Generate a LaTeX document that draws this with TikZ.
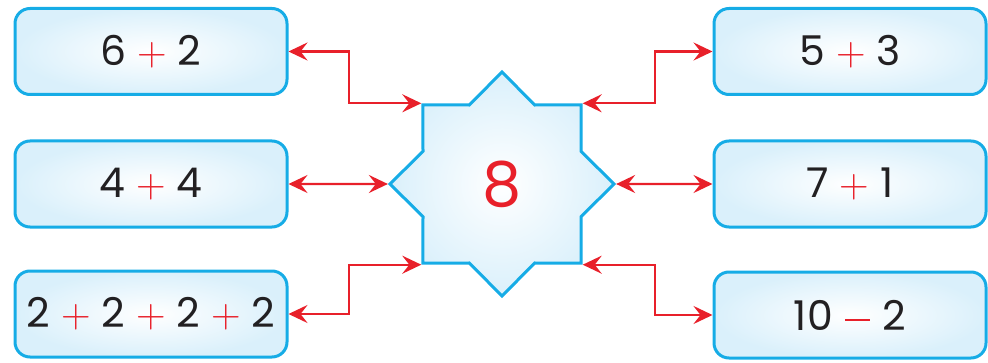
\documentclass[tikz,border=0pt]{standalone}
\usepackage{fontspec}
\setmainfont{Poppins}
\newfontfamily\signfont{Latin Modern Roman}
\usetikzlibrary{arrows.meta,shapes.geometric}

\definecolor{rimblue}{RGB}{22,172,230}
\definecolor{paleblue}{RGB}{218,240,251}
\definecolor{opred}{RGB}{232,32,42}
\definecolor{digit}{RGB}{34,32,34}
\newcommand{\pl}{{\signfont\color{opred}+}}
\newcommand{\mn}{{\color{opred}\kern0.04em\rule[0.23em]{0.6em}{0.045em}\kern0.04em}}

\begin{document}
\begin{tikzpicture}[x=1pt,y=1pt,
    sumbox/.style={draw=rimblue,line width=3pt,rounded corners=15pt,
      inner color=white,outer color=paleblue,minimum width=272pt,
      minimum height=86pt,text=digit,font=\fontsize{41}{44}\selectfont},
    link/.style={draw=opred,line width=2.4pt,
      {Stealth[length=19pt,width=18pt,inset=7pt]}-{Stealth[length=19pt,width=18pt,inset=7pt]}}]
  \useasboundingbox (0,0) rectangle (988,362);
  % centre star
  \node[star,star points=8,star point ratio=1.31,minimum size=224pt,
    inner sep=0pt,draw=rimblue,line width=3pt,inner color=white,
    outer color=paleblue,text=opred,font=\fontsize{62}{64}\selectfont]
    (st) at (502,178) {8};
  % left sums
  \node[sumbox] (l1) at (151,310.5) {6 \pl{} 2};
  \node[sumbox] (l2) at (151,178) {4 \pl{} 4};
  \node[sumbox] (l3) at (151,48) {2 \pl{} 2 \pl{} 2 \pl{} 2};
  % right sums
  \node[sumbox] (r1) at (850,310.5) {5 \pl{} 3};
  \node[sumbox] (r2) at (850,178) {7 \pl{} 1};
  \node[sumbox] (r3) at (850,47) {10 \mn{} 2};
  % arrows
  \draw[link] (l1.east) -| ([xshift=-72pt]st.135) -- (st.135);
  \draw[link] (l2.east) -- (st.180);
  \draw[link] (l3.east) -| ([xshift=-72pt]st.225) -- (st.225);
  \draw[link] (r1.west) -| ([xshift=72pt]st.45) -- (st.45);
  \draw[link] (r2.west) -- (st.0);
  \draw[link] (r3.west) -| ([xshift=72pt]st.315) -- (st.315);
\end{tikzpicture}
\end{document}
